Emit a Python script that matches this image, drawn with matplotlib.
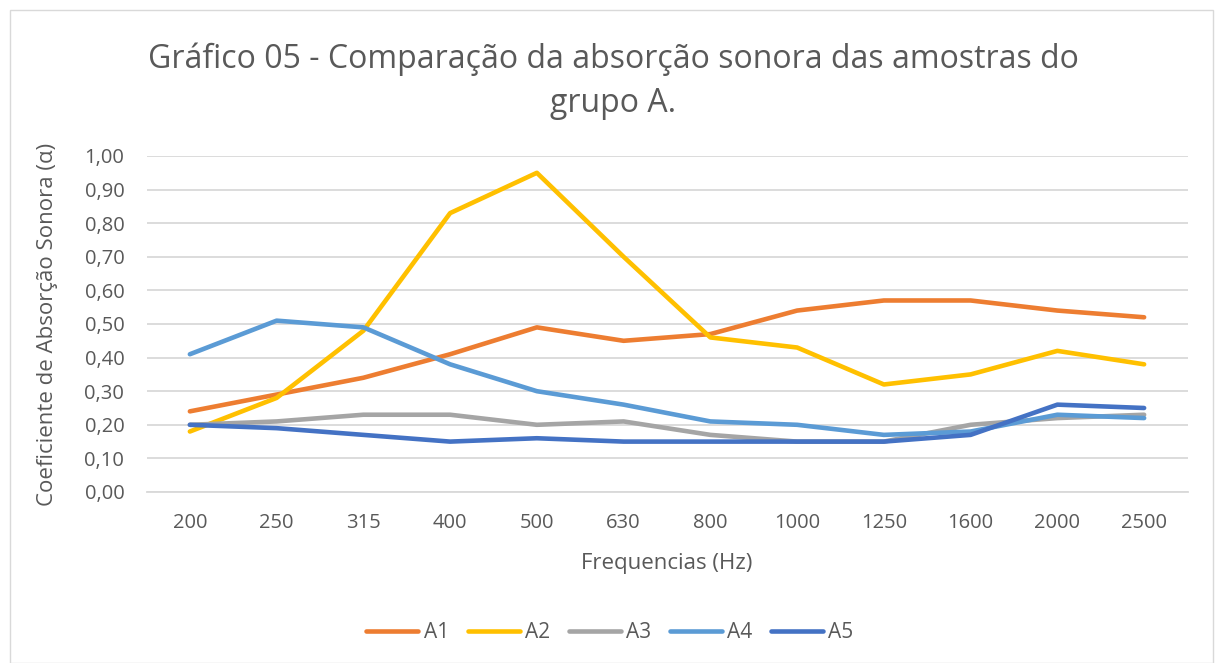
import matplotlib
matplotlib.use('Agg')
import matplotlib.pyplot as plt
import numpy as np

plt.rcParams['font.family'] = ['Open Sans', 'DejaVu Sans']

freqs = ['200', '250', '315', '400', '500', '630', '800', '1000', '1250', '1600', '2000', '2500']
a1 = [0.24, 0.29, 0.34, 0.41, 0.49, 0.45, 0.47, 0.54, 0.57, 0.57, 0.54, 0.52]
a2 = [0.18, 0.28, 0.48, 0.83, 0.95, 0.70, 0.46, 0.43, 0.32, 0.35, 0.42, 0.38]
a3 = [0.20, 0.21, 0.23, 0.23, 0.20, 0.21, 0.17, 0.15, 0.15, 0.20, 0.22, 0.23]
a4 = [0.41, 0.51, 0.49, 0.38, 0.30, 0.26, 0.21, 0.20, 0.17, 0.18, 0.23, 0.22]
a5 = [0.20, 0.19, 0.17, 0.15, 0.16, 0.15, 0.15, 0.15, 0.15, 0.17, 0.26, 0.25]

series = [('A1', a1, '#ED7D31'), ('A2', a2, '#FFC000'), ('A3', a3, '#A5A5A5'),
          ('A4', a4, '#5B9BD5'), ('A5', a5, '#4472C4')]

txt = '#595959'
fig = plt.figure(figsize=(12.16, 6.63), dpi=100)
ax = fig.add_axes([146.5 / 1216, 1 - 492 / 663, 1041 / 1216, 336 / 663])

x = np.arange(len(freqs))
for name, vals, col in series:
    ax.plot(x, vals, color=col, lw=3.3, label=name, solid_capstyle='round', solid_joinstyle='round')

ax.set_xlim(-0.5, len(freqs) - 0.5)
ax.set_ylim(0, 1.0)
ax.set_yticks(np.arange(0, 1.01, 0.1))
ax.set_yticklabels([f'{v:.2f}'.replace('.', ',') for v in np.arange(0, 1.01, 0.1)])
ax.set_xticks(x)
ax.set_xticklabels(freqs)
ax.tick_params(length=0, labelsize=14.5, colors=txt)
ax.tick_params(axis='x', pad=15)
ax.tick_params(axis='y', pad=16)
ax.yaxis.grid(True, color='#D9D9D9', lw=1.3)
ax.set_axisbelow(True)
for s in ax.spines.values():
    s.set_visible(False)
ax.spines['bottom'].set_visible(True)
ax.spines['bottom'].set_color('#D9D9D9')
ax.spines['bottom'].set_linewidth(1.3)

ax.set_xlabel('Frequencias (Hz)', fontsize=16, color=txt, va='center')
ax.xaxis.set_label_coords(0.5, (492 - 563) / 336)
ax.set_ylabel('Coeficiente de Absorção Sonora (α)', fontsize=16, color=txt, va='center')
ax.yaxis.set_label_coords((48 - 146.5) / 1041, 0.5)

fig.text(613 / 1216, 1 - 81 / 663, 'Gráfico 05 - Comparação da absorção sonora das amostras do\ngrupo A.',
         ha='center', va='center', fontsize=23, color=txt, linespacing=1.45)

fig.legend(loc='center', bbox_to_anchor=(610 / 1216, 1 - 633 / 663), ncol=5, frameon=False,
           fontsize=15, labelcolor=txt, handlelength=2.5, columnspacing=0.9, handletextpad=0.25)

border = plt.Rectangle((10 / 1216, 0), 1203 / 1216, 1 - 10 / 663, transform=fig.transFigure,
                       fill=False, ec='#D9D9D9', lw=1)
fig.add_artist(border)

fig.savefig('out.png', dpi=100)
